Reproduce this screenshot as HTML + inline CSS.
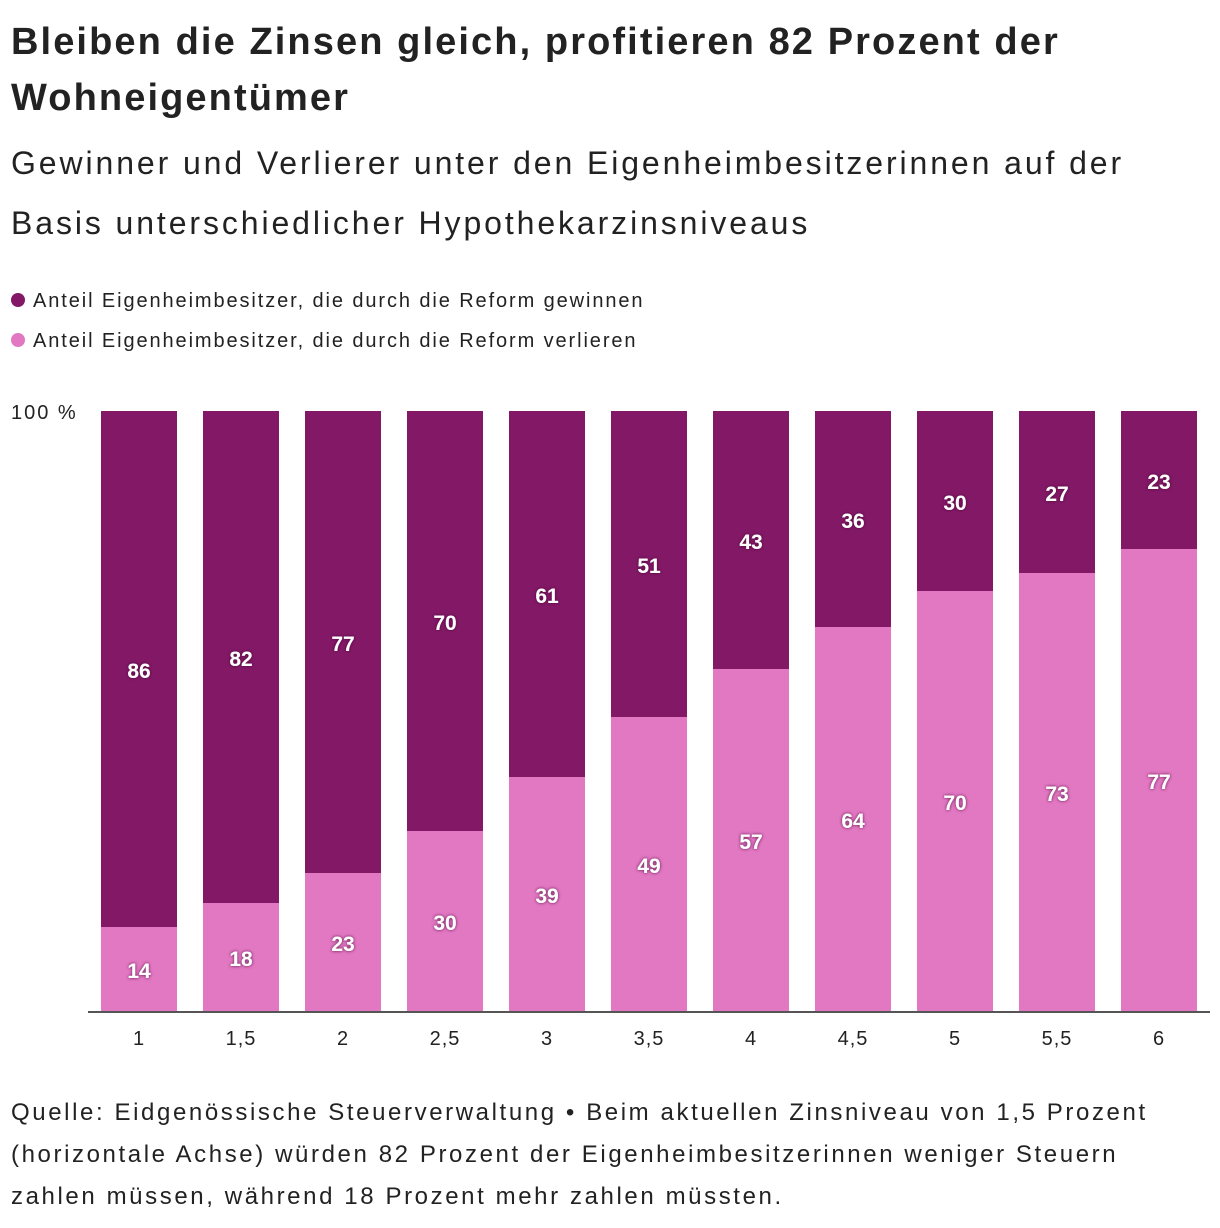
<!DOCTYPE html>
<html><head><meta charset="utf-8">
<style>
body{margin:0;width:1220px;height:1228px;background:#fff;font-family:"Liberation Sans",sans-serif;color:#222;overflow:hidden;position:relative}
.t{position:absolute;left:11px;white-space:nowrap}
</style></head><body>
<div class="t" style="top:14px;font-size:38px;font-weight:bold;line-height:56px;letter-spacing:2.1px">Bleiben die Zinsen gleich, profitieren 82 Prozent der<br>Wohneigentümer</div>
<div class="t" style="top:133px;font-size:32px;line-height:60px;letter-spacing:2.9px">Gewinner und Verlierer unter den Eigenheimbesitzerinnen auf der<br>Basis unterschiedlicher Hypothekarzinsniveaus</div>
<div class="t" style="top:290px;font-size:20px;letter-spacing:1.9px"><span style="display:inline-block;width:14px;height:14px;border-radius:50%;background:#831866;margin-right:8px"></span>Anteil Eigenheimbesitzer, die durch die Reform gewinnen</div>
<div class="t" style="top:330px;font-size:20px;letter-spacing:1.9px"><span style="display:inline-block;width:14px;height:14px;border-radius:50%;background:#e277c2;margin-right:8px"></span>Anteil Eigenheimbesitzer, die durch die Reform verlieren</div>
<svg id="c" width="1220" height="1228" style="position:absolute;left:0;top:0"></svg>
<div class="t" style="top:1092px;font-size:24px;line-height:42px;letter-spacing:2.6px">Quelle: Eidgenössische Steuerverwaltung • Beim aktuellen Zinsniveau von 1,5 Prozent<br>(horizontale Achse) würden 82 Prozent der Eigenheimbesitzerinnen weniger Steuern<br>zahlen müssen, während 18 Prozent mehr zahlen müssten.</div>
<script>
const categories=["1","1,5","2","2,5","3","3,5","4","4,5","5","5,5","6"];
const gainers=[86,82,77,70,61,51,43,36,30,27,23];
const losers=[14,18,23,30,39,49,57,64,70,73,77];
const yTicks=["100 %"];
const svg=document.getElementById('c');const NS='http://www.w3.org/2000/svg';
const y0=1011,y1=411;const yS=v=>y0-(y0-y1)*v/100;
const xS=i=>101+i*102;const bw=76;
function el(t,a,p){const e=document.createElementNS(NS,t);for(const k in a)e.setAttribute(k,a[k]);(p||svg).appendChild(e);return e;}
const f=document.createElementNS(NS,'filter');f.setAttribute('id','sh');svg.appendChild(f);
el('feDropShadow',{dx:0,dy:0,stdDeviation:1.5,'flood-color':'#4a0a38','flood-opacity':0.9},f);
categories.forEach((c,i)=>{
 const x=xS(i);const lTop=yS(losers[i]);const gTop=yS(losers[i]+gainers[i]);
 const r1=el('rect',{x:x,y:gTop,width:bw,height:lTop-gTop,fill:'#831866'});
 
 
 const r2=el('rect',{x:x,y:lTop,width:bw,height:y0-lTop,fill:'#e277c2'});
 
 
 const t1=el('text',{x:x+bw/2,y:(gTop+lTop)/2+9,'text-anchor':'middle','font-size':21,'font-weight':'bold',fill:'#fff',filter:'url(#sh)'});
 t1.textContent=gainers[i];
 
 
 const t2=el('text',{x:x+bw/2,y:(lTop+y0)/2+9,'text-anchor':'middle','font-size':21,'font-weight':'bold',fill:'#fff',filter:'url(#sh)'});
 t2.textContent=losers[i];
 
 
 const tl=el('text',{x:x+bw/2,y:1045,'text-anchor':'middle','font-size':20,fill:'#222','letter-spacing':1});
 tl.textContent=c;
 
 
});
const ax=el('line',{x1:88,x2:1210,y1:y0+1,y2:y0+1,stroke:'#555','stroke-width':2});


const yt=el('text',{x:11,y:419,'font-size':20,fill:'#222','letter-spacing':2});
yt.textContent=yTicks[0];


</script>
</body></html>
